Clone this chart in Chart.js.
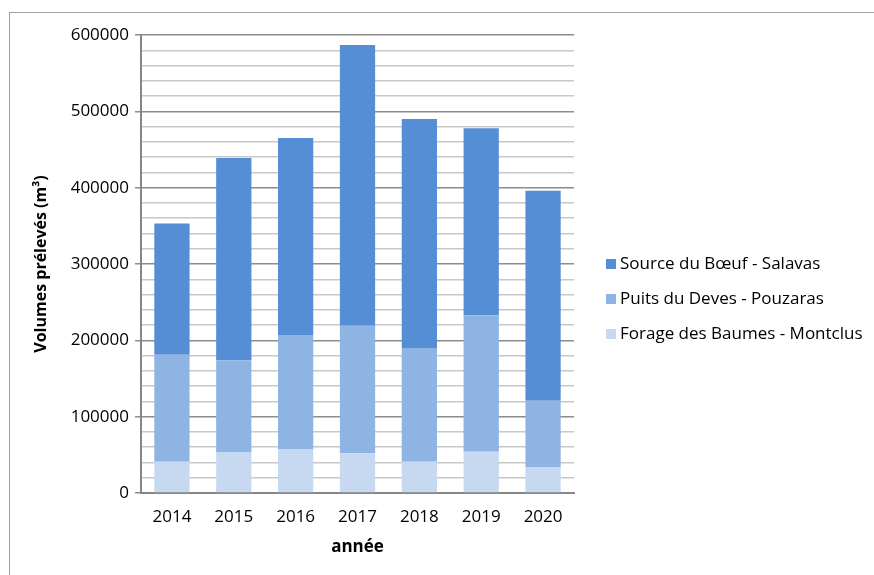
<!DOCTYPE html>
<html>
<head>
<meta charset="utf-8">
<script src="https://cdn.jsdelivr.net/npm/chart.js@4"></script>
<style>
    body { margin: 0; background: #fff; }
    .frame { position: absolute; left: 9px; top: 12px; width: 880px; height: 580px; border-left: 1px solid #A0A0A0; border-top: 1px solid #A0A0A0; }
    .chart-box { position: absolute; left: 0; top: 0; width: 874px; height: 575px; }
</style>
</head>
<body>
<div class="frame"></div>
<div class="chart-box"><canvas id="myChart"></canvas></div>
<script>
const years = ['2014', '2015', '2016', '2017', '2018', '2019', '2020'];
const forageBaumes = [41000, 53000, 57000, 52000, 41000, 54000, 34000];
const puitsDeves = [140000, 121000, 150000, 167000, 149000, 179000, 87000];
const sourceBoeuf = [172000, 265000, 258000, 368000, 300000, 245000, 275000];
const yTicks = [0, 100000, 200000, 300000, 400000, 500000, 600000];

const fontFamily = "'Open Sans', sans-serif";
const fontSize = 17;

// légende à droite, dessinée à partir des datasets (ordre inversé comme dans Excel)
const sideLegend = {
    id: 'sideLegend',
    afterDraw(chart) {
        const c = chart.ctx;
        const x = chart.chartArea.right + 32;
        const items = chart.data.datasets.slice().reverse();
        c.save();
        c.font = fontSize + 'px ' + fontFamily;
        c.textBaseline = 'middle';
        items.forEach((ds, i) => {
            const y = 264 + i * 35;
            c.fillStyle = ds.backgroundColor;
            c.fillRect(x, y - 5, 10, 10);
            c.fillStyle = '#000';
            c.fillText(ds.label, x + 14, y);
        });
        c.restore();
    }
};

const ctx = document.getElementById('myChart').getContext('2d');
new Chart(ctx, {
    type: 'bar',
    data: {
        labels: years,
        datasets: [{
            label: 'Forage des Baumes - Montclus',
            data: forageBaumes,
            backgroundColor: '#C6D9F1'
        }, {
            label: 'Puits du Deves - Pouzaras',
            data: puitsDeves,
            backgroundColor: '#8EB4E3'
        }, {
            label: 'Source du Bœuf - Salavas',
            data: sourceBoeuf,
            backgroundColor: '#558ED5'
        }]
    },
    options: {
        maintainAspectRatio: false,
        responsive: true,
        animation: false,
        datasets: {
            bar: {
                categoryPercentage: 1,
                barPercentage: 0.57
            }
        },
        layout: {
            padding: { left: 30, right: 300, top: 35, bottom: 14 }
        },
        plugins: {
            legend: { display: false },
            tooltip: { enabled: false }
        },
        scales: {
            x: {
                stacked: true,
                grid: { display: false },
                border: { color: '#868686', width: 2 },
                ticks: {
                    color: '#000',
                    padding: 6,
                    font: { family: fontFamily, size: fontSize }
                },
                title: {
                    display: true,
                    text: 'année',
                    color: '#000',
                    font: { family: fontFamily, size: fontSize, weight: 'bold' }
                },
                afterFit: (axis) => { axis.height = 68; }
            },
            y: {
                stacked: true,
                min: 0,
                max: 600000,
                border: { color: '#868686', width: 2 },
                grid: {
                    color: (c) => yTicks.includes(c.tick.value) ? '#8C8C8C' : '#C8C8C8',
                    tickColor: (c) => yTicks.includes(c.tick.value) ? '#8C8C8C' : 'rgba(0,0,0,0)',
                    lineWidth: 1.5,
                    tickLength: 6
                },
                ticks: {
                    stepSize: 20000,
                    autoSkip: false,
                    color: '#000',
                    padding: 6,
                    font: { family: fontFamily, size: fontSize },
                    callback: (v) => yTicks.includes(v) ? String(v) : ''
                },
                title: {
                    display: true,
                    text: 'Volumes prélevés (m³)',
                    color: '#000',
                    padding: 2,
                    font: { family: fontFamily, size: fontSize - 1, weight: 'bold' }
                },
                afterFit: (axis) => { axis.width = 111; }
            }
        }
    },
    plugins: [sideLegend]
});
</script>
</body>
</html>
